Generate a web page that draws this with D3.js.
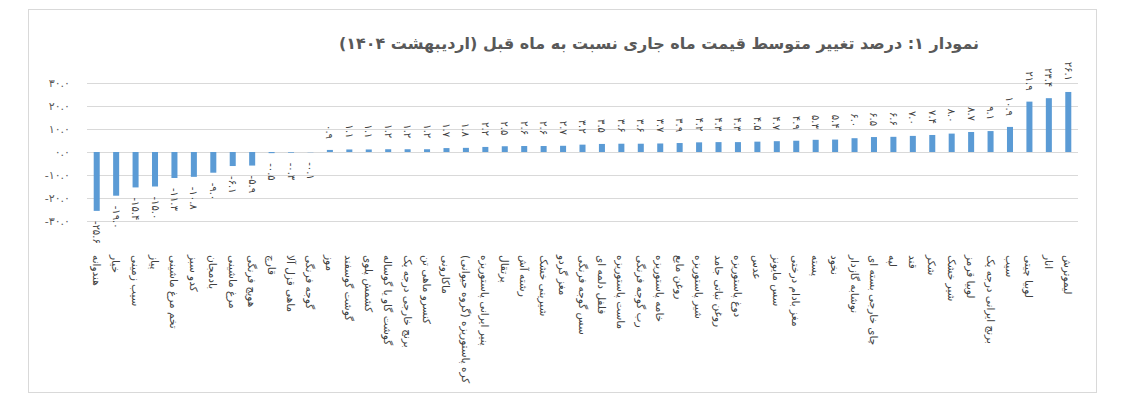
<!DOCTYPE html>
<html>
<head>
<meta charset="utf-8">
<script src="https://cdn.jsdelivr.net/npm/d3@7"></script>
<style>
  body { margin: 0; background: #fff; }
  text { font-family: "DejaVu Sans", "Noto Sans", sans-serif; }
</style>
</head>
<body>
<div id="chart"></div>
<script>
// data, sorted as in the original chart
const categories = [
  "هندوانه", "خیار", "سیب زمینی", "پیاز", "تخم مرغ ماشینی", "کدو سبز", "بادمجان",
  "مرغ ماشینی", "هویج فرنگی", "قارچ", "ماهی قزل آلا", "گوجه فرنگی", "موز",
  "گوشت گوسفند", "کشمش پلوی", "گوشت گاو یا گوساله", "برنج خارجی درجه یک",
  "کنسرو ماهی تن", "ماکارونی", "کره پاستوریزه (گروه حیوانی)", "پنیر ایرانی پاستوریزه",
  "پرتقال", "رشته آش", "شیرینی خشک", "مغز گردو", "سس گوجه فرنگی", "فلفل دلمه ای",
  "ماست پاستوریزه", "رب گوجه فرنگی", "خامه پاستوریزه", "روغن مایع", "شیر پاستوریزه",
  "روغن نباتی جامد", "دوغ پاستوریزه", "عدس", "سس مایونز", "مغز بادام درختی", "پسته",
  "نخود", "نوشابه گازدار", "چای خارجی بسته ای", "لپه", "قند", "شکر", "شیر خشک",
  "لوبیا قرمز", "برنج ایرانی درجه یک", "سیب", "لوبیا چیتی", "انار", "لیموترش"
];
const values = [
  -25.6, -19.0, -15.4, -15.0, -11.3, -10.8, -9.0, -6.1, -5.9, -0.5, -0.3, -0.1, 0.9,
  1.1, 1.1, 1.2, 1.2, 1.2, 1.7, 1.8, 2.2, 2.5, 2.6, 2.6, 2.7, 3.2, 3.5,
  3.6, 3.6, 3.7, 3.9, 4.2, 4.3, 4.3, 4.5, 4.7, 4.9, 5.3, 5.4, 6.0, 6.5,
  6.6, 7.0, 7.4, 8.0, 8.7, 9.1, 10.9, 21.9, 23.4, 26.1
];
const yTicks = [-30, -20, -10, 0, 10, 20, 30];
const title = "نمودار ۱: درصد تغییر متوسط قیمت ماه جاری نسبت به ماه قبل (اردیبهشت ۱۴۰۴)";

const width = 1121, height = 404;
const margin = { top: 83, right: 43, bottom: 183, left: 87 };
const RLM = "\u200F";

const data = categories.map((c, i) => ({ name: c, value: values[i] }));

// latin digits -> persian digits, keep the short hyphen as minus
const fa = s => String(s).replace(/\d/g, d => "۰۱۲۳۴۵۶۷۸۹"[d]);
const fmt = v => fa(v.toFixed(1));

const svg = d3.select("#chart").append("svg")
    .attr("width", width)
    .attr("height", height);

// chart frame
svg.append("rect")
    .attr("x", 28.5).attr("y", 9.5)
    .attr("width", 1068).attr("height", 383)
    .attr("fill", "#fff")
    .attr("stroke", "#d9d9d9");

svg.append("text")
    .attr("x", 659).attr("y", 43)
    .attr("text-anchor", "middle")
    .attr("dominant-baseline", "central")
    .style("font-size", "16px")
    .style("font-weight", "bold")
    .style("fill", "#595959")
    .text(RLM + title + RLM);

var x = d3.scaleBand()
    .domain(categories)
    .range([margin.left, width - margin.right])
    .paddingInner(0.69)
    .paddingOuter(0.345);

var y = d3.scaleLinear()
    .domain([-30, 30])
    .range([height - margin.bottom, margin.top]);

// gridlines + y labels
var yAxis = svg.append("g")
    .attr("transform", "translate(" + margin.left + ",0)")
    .call(d3.axisLeft(y)
        .tickValues(yTicks)
        .tickSize(-(width - margin.right - margin.left))
        .tickPadding(17)
        .tickFormat(fmt));
yAxis.select(".domain").remove();
yAxis.selectAll("line").attr("stroke", "#d9d9d9");
yAxis.selectAll("text")
    .style("font-size", "11px")
    .style("fill", "#595959")
    .style("font-family", "DejaVu Sans, sans-serif");

// bars
svg.selectAll(".bar")
  .data(data)
  .enter()
  .append("rect")
  .attr("class", "bar")
  .attr("x", d => x(d.name))
  .attr("width", x.bandwidth())
  .attr("y", d => y(Math.max(0, d.value)))
  .attr("height", d => Math.abs(y(d.value) - y(0)))
  .attr("fill", "#5b9bd5");

// value labels, rotated
svg.selectAll(".val")
  .data(data)
  .enter()
  .append("text")
  .attr("class", "val")
  .attr("transform", d => "translate(" + (x(d.name) + x.bandwidth() / 2) + "," +
        (d.value >= 0 ? y(d.value) - 11 : y(d.value) + 10) + ") rotate(90)")
  .attr("text-anchor", d => d.value >= 0 ? "end" : "start")
  .attr("dominant-baseline", "central")
  .style("font-size", "10px")
  .style("fill", "#404040")
  .text(d => fmt(d.value));

// category labels, rotated, hung below the plot
svg.selectAll(".cat")
  .data(data)
  .enter()
  .append("text")
  .attr("class", "cat")
  .attr("transform", d => "translate(" + (x(d.name) + x.bandwidth() / 2) + ",255) rotate(90)")
  .attr("text-anchor", "start")
  .attr("dominant-baseline", "central")
  .style("font-size", "10.5px")
  .style("fill", "#404040")
  .text(d => RLM + d.name + RLM);
</script>
</body>
</html>
